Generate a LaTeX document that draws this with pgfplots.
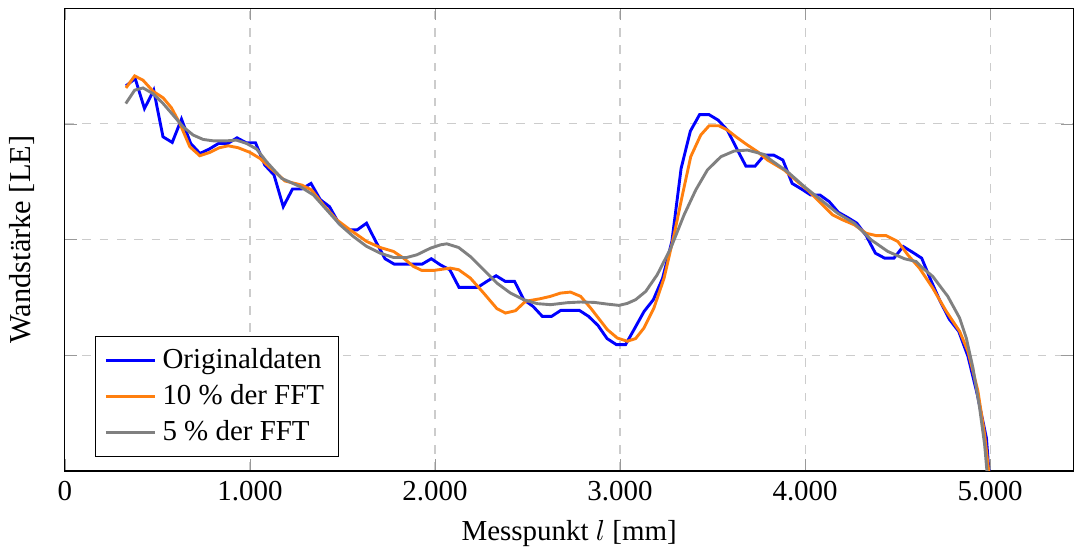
\documentclass[border=0pt]{standalone}
\usepackage{fontspec}
\setmainfont{Liberation Serif}
\usepackage{pgfplots}
\pgfplotsset{compat=1.18}

\definecolor{origblue}{RGB}{0,0,255}
\definecolor{fftorange}{RGB}{255,127,14}
\definecolor{fftgray}{RGB}{128,128,128}

\begin{document}
\begin{tikzpicture}
\begin{axis}[
    scale only axis,
    width=348.4pt, height=159.9pt,
    xmin=0, xmax=5450,
    ymin=0, ymax=4,
    xtick={0,1000,2000,3000,4000,5000},
    ytick={1,2,3}, yticklabels={},
    xmajorgrids=true, ymajorgrids=true,
    major grid style={black!20, dashed},
    tick style={black!40},
    axis line style={black},
    xticklabel style={/pgf/number format/.cd, use comma, 1000 sep={.}, assume math mode=true},
    xlabel={Messpunkt $l$ [mm]},
    ylabel={Wandstärke [LE]},
    ylabel style={font=\fontsize{10.5}{12}\selectfont},
    legend style={at={(0.03,0.03)}, anchor=south west, draw=black, fill=white, font=\normalsize},
    legend cell align={left},
]
\addplot[origblue, line width=1pt] coordinates {
(330,3.328)(380,3.391)(430,3.132)(480,3.291)(530,2.888)(580,2.839)(630,3.041)(680,2.830)
(730,2.744)(780,2.782)(830,2.830)(880,2.830)(930,2.879)(980,2.836)(1030,2.836)(1080,2.644)
(1130,2.558)(1180,2.284)(1230,2.437)(1280,2.437)(1330,2.485)(1380,2.345)(1430,2.284)(1480,2.141)
(1530,2.084)(1580,2.084)(1630,2.141)(1680,1.983)(1730,1.834)(1780,1.787)(1830,1.787)(1880,1.787)
(1930,1.787)(1980,1.834)(2030,1.780)(2080,1.739)(2130,1.586)(2180,1.586)(2230,1.586)(2280,1.638)
(2330,1.687)(2380,1.638)(2430,1.638)(2480,1.480)(2530,1.422)(2580,1.336)(2630,1.336)(2680,1.388)
(2730,1.388)(2780,1.388)(2830,1.336)(2880,1.259)(2930,1.144)(2980,1.092)(3030,1.092)(3080,1.235)
(3130,1.379)(3180,1.480)(3230,1.666)(3280,1.983)(3330,2.615)(3380,2.937)(3430,3.080)(3480,3.080)
(3530,3.032)(3580,2.946)(3630,2.787)(3680,2.635)(3730,2.635)(3780,2.730)(3830,2.730)(3880,2.687)
(3930,2.485)(3980,2.437)(4030,2.385)(4080,2.385)(4130,2.328)(4180,2.235)(4230,2.190)(4280,2.141)
(4330,2.034)(4380,1.882)(4430,1.839)(4480,1.839)(4530,1.940)(4580,1.891)(4630,1.839)(4680,1.647)
(4730,1.466)(4780,1.310)(4830,1.207)(4880,0.991)(4930,0.664)(4980,0.284)(5030,-0.776)
};
\addlegendentry{Originaldaten}
\addplot[fftorange, line width=1pt] coordinates {
(330,3.310)(377,3.414)(422,3.377)(476,3.282)(531,3.224)(576,3.138)(621,3.003)(675,2.802)
(729,2.724)(783,2.753)(834,2.793)(883,2.810)(937,2.793)(1000,2.753)(1054,2.701)(1108,2.621)
(1171,2.534)(1189,2.506)(1279,2.471)(1333,2.428)(1397,2.299)(1469,2.170)(1541,2.084)(1631,1.983)
(1704,1.931)(1776,1.897)(1830,1.839)(1884,1.767)(1929,1.733)(1992,1.733)(2083,1.753)(2128,1.739)
(2191,1.667)(2263,1.537)(2335,1.402)(2381,1.365)(2435,1.385)(2489,1.466)(2570,1.489)(2624,1.509)
(2678,1.537)(2732,1.546)(2787,1.509)(2841,1.408)(2931,1.222)(2985,1.149)(3039,1.121)(3084,1.144)
(3129,1.235)(3183,1.408)(3238,1.667)(3292,2.041)(3337,2.385)(3382,2.716)(3436,2.903)(3481,2.983)
(3535,2.983)(3580,2.946)(3634,2.879)(3689,2.816)(3743,2.759)(3797,2.687)(3887,2.601)(3959,2.500)
(4023,2.414)(4086,2.313)(4149,2.213)(4203,2.170)(4266,2.127)(4330,2.054)(4384,2.034)(4438,2.034)
(4501,1.983)(4555,1.868)(4618,1.753)(4690,1.580)(4763,1.379)(4835,1.207)(4880,1.034)(4934,0.690)
(4970,0.316)(5020,-0.400)
};
\addlegendentry{10 \% der FFT}
\addplot[fftgray, line width=1pt] coordinates {
(329,3.175)(377,3.291)(422,3.310)(476,3.261)(531,3.175)(585,3.075)(639,2.974)(693,2.903)
(747,2.865)(801,2.853)(873,2.853)(927,2.859)(982,2.830)(1036,2.782)(1090,2.672)(1171,2.529)
(1271,2.457)(1343,2.385)(1415,2.256)(1487,2.127)(1559,2.026)(1631,1.940)(1704,1.882)(1776,1.845)
(1848,1.845)(1902,1.868)(1975,1.925)(2029,1.954)(2064,1.963)(2128,1.931)(2191,1.853)(2263,1.739)
(2335,1.623)(2408,1.537)(2480,1.480)(2552,1.446)(2624,1.437)(2714,1.454)(2787,1.460)(2859,1.457)
(2931,1.442)(2994,1.431)(3039,1.448)(3084,1.480)(3139,1.552)(3201,1.696)(3274,1.925)(3346,2.213)
(3409,2.428)(3472,2.601)(3545,2.716)(3617,2.765)(3689,2.773)(3779,2.735)(3815,2.687)(3905,2.586)
(3996,2.457)(4086,2.342)(4176,2.227)(4266,2.141)(4357,1.997)(4447,1.897)(4537,1.834)(4600,1.810)
(4636,1.753)(4690,1.681)(4771,1.509)(4835,1.322)(4871,1.149)(4907,0.891)(4943,0.546)(4970,0.230)
(5010,-0.500)
};
\addlegendentry{5 \% der FFT}
\end{axis}
\path (current axis.north) ++(0pt,2.8pt);
\end{tikzpicture}
\end{document}
